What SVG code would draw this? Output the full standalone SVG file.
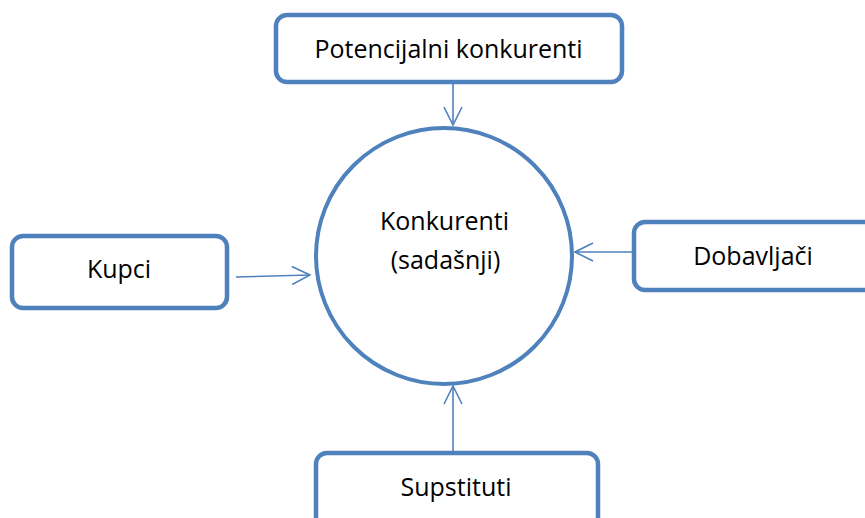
<svg xmlns="http://www.w3.org/2000/svg" width="865" height="518" viewBox="0 0 865 518">
<style>
.box{fill:#fff;stroke:#4F81BD;stroke-width:4.5}
.lbl{font-family:"Open Sans","Liberation Sans",sans-serif;font-size:25px;fill:#000;text-anchor:middle}
.con{stroke:#4F81BD;stroke-width:1.6;fill:none}
</style>
<defs>
<marker id="arr" viewBox="0 0 20 20" refX="19" refY="10" markerWidth="20" markerHeight="20" markerUnits="userSpaceOnUse" orient="auto">
<path d="M1,1 L19,10 L1,19" fill="none" stroke="#4F81BD" stroke-width="1.6"/>
</marker>
</defs>
<rect width="865" height="518" fill="#fff"/>
<g id="connectors">
<line class="con" x1="453" y1="84" x2="453" y2="125" marker-end="url(#arr)"/>
<line class="con" x1="236" y1="277" x2="310" y2="275" marker-end="url(#arr)"/>
<line class="con" x1="632" y1="252" x2="575" y2="252" marker-end="url(#arr)"/>
<line class="con" x1="453" y1="451" x2="453" y2="386" marker-end="url(#arr)"/>
</g>
<g id="center">
<circle cx="444" cy="256" r="128" fill="#fff" stroke="#4F81BD" stroke-width="4"/>
<text class="lbl" x="444.5" y="230">Konkurenti</text>
<text class="lbl" x="445.5" y="269">(sadašnji)</text>
</g>
<g id="potencijalni">
<rect class="box" x="276" y="15" width="346" height="67" rx="11"/>
<text class="lbl" x="448.5" y="58">Potencijalni konkurenti</text>
</g>
<g id="kupci">
<rect class="box" x="12" y="236" width="215" height="72" rx="11"/>
<text class="lbl" x="119" y="278">Kupci</text>
</g>
<g id="dobavljaci">
<rect class="box" x="634" y="222" width="245" height="68" rx="11"/>
<text class="lbl" x="753" y="265">Dobavljači</text>
</g>
<g id="supstituti">
<rect class="box" x="316" y="453" width="282" height="80" rx="11"/>
<text class="lbl" x="456" y="496">Supstituti</text>
</g>
</svg>
